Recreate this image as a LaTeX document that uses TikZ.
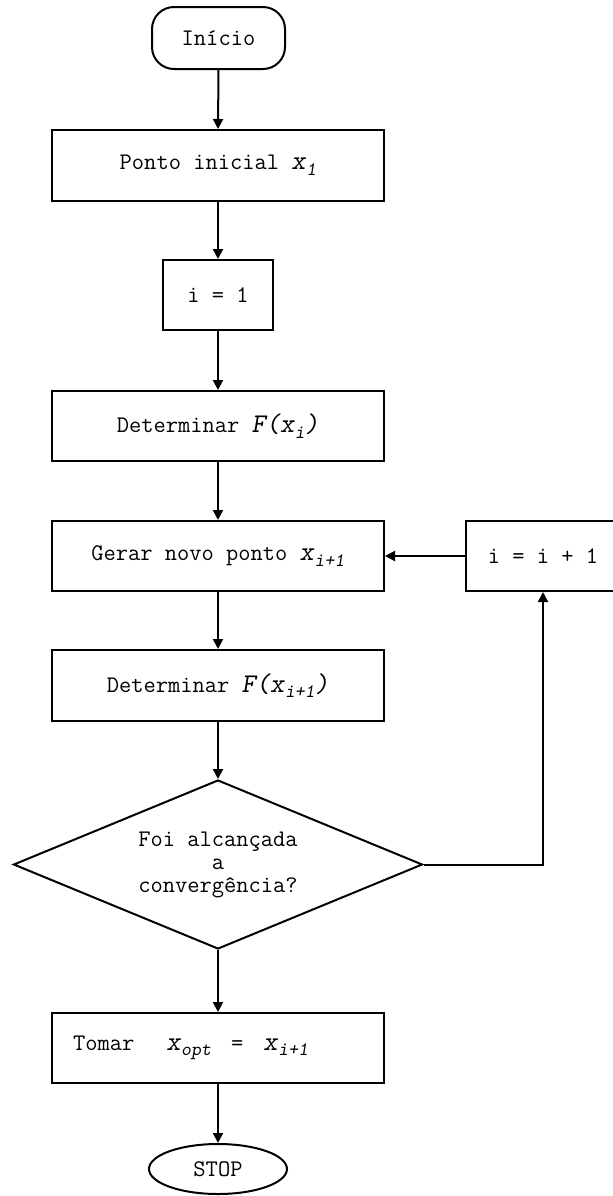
\documentclass[tikz,border=0pt]{standalone}
\usepackage{fontspec}
\usepackage{tikz}
\usetikzlibrary{shapes.geometric, arrows.meta}

\newcommand{\itx}[1]{{\fontsize{13.5pt}{13.5pt}\selectfont\textsl{#1}}}
\newcommand{\subidx}[1]{\raisebox{-0.55ex}{\fontsize{9.5pt}{9.5pt}\selectfont\textsl{#1}}}
\newcommand{\xsub}[1]{\itx{x}\subidx{#1}}

\begin{document}
\begin{tikzpicture}[x = 0.5pt, y = -0.5pt,
		every node/.style = {font = \ttfamily\fontsize{11.9pt}{11.5pt}\selectfont, line width = 1pt, inner sep = 0pt},
		box/.style = {draw, minimum width = 166pt, minimum height = 35pt},
		flow/.style = {line width = 1pt, -{Triangle[width = 5pt, length = 5pt]}}]
		\useasboundingbox (0,0) rectangle (613,1196);
		\def\cx{218}
		
		\node [draw, rounded corners = 11pt, minimum width = 66.5pt, minimum height = 31pt] (inicio) at (218.5,38) {Início};
		\node [box, minimum height = 35.5pt] (ponto inicial) at (\cx,165.5) {Ponto inicial \xsub{1}};
		\node [draw, minimum width = 55pt, minimum height = 35pt] (i igual 1) at (\cx,295) {i = 1};
		\node [box] (determinar xi) at (\cx,426) {Determinar \itx{F(x}\subidx{i}\itx{)}};
		\node [box] (gerar) at (\cx,556) {Gerar novo ponto \xsub{i+1}};
		\node [draw, minimum width = 77pt, minimum height = 35pt] (incremento) at (543,556) {i = i + 1};
		\node [box, minimum height = 35.5pt] (determinar xi1) at (\cx,685.5) {Determinar \itx{F(x}\subidx{i+1}\itx{)}};
		\node [draw, diamond, aspect = 2.42, minimum width = 204.5pt, minimum height = 84.5pt, align = center] (convergencia) at (\cx,864.5) {Foi alcançada\\a\\convergência?};
		\node [draw, minimum height = 35pt, text width = 145pt, inner xsep = 10.5pt, align = left] (tomar) at (\cx,1048) {Tomar\hspace{16pt}\xsub{opt}\hspace{10pt}=\hspace{10pt}\xsub{i+1}};
		\node [draw, ellipse, minimum width = 69pt, minimum height = 25pt] (stop) at (\cx,1169) {STOP};
		
		\draw [flow] (inicio.south) -- (ponto inicial.north);
		\draw [flow] (ponto inicial.south) -- (i igual 1.north);
		\draw [flow] (i igual 1.south) -- (determinar xi.north);
		\draw [flow] (determinar xi.south) -- (gerar.north);
		\draw [flow] (gerar.south) -- (determinar xi1.north);
		\draw [flow] (determinar xi1.south) -- (convergencia.north);
		\draw [flow] (convergencia.south) -- (tomar.north);
		\draw [flow] (tomar.south) -- (stop.north);
		\draw [flow] (convergencia.east) -| (incremento.south);
		\draw [flow] (incremento.west) -- (gerar.east);
	\end{tikzpicture}
\end{document}
